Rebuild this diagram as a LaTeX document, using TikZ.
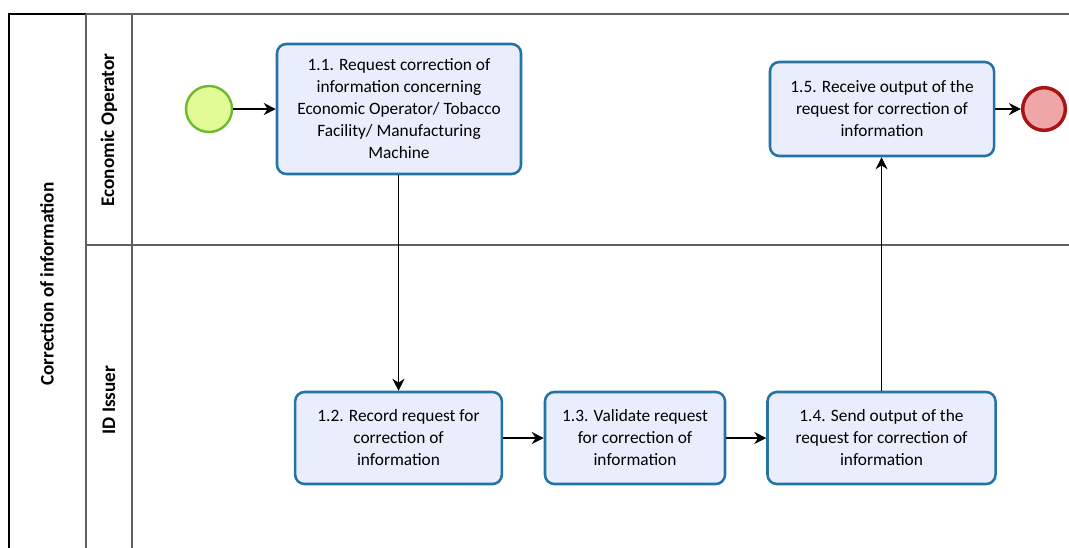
\documentclass[tikz,border=0pt]{standalone}
\usepackage{fontspec}
\setmainfont{Carlito}
\usetikzlibrary{arrows.meta}
\definecolor{taskline}{HTML}{2473A6}
\definecolor{taskfill}{HTML}{EAEEFC}
\definecolor{startline}{HTML}{6CBB2C}
\definecolor{startfill}{HTML}{E3FB96}
\definecolor{endline}{HTML}{A81313}
\definecolor{endfill}{HTML}{EEA6A6}
\definecolor{laneline}{HTML}{606060}
\tikzset{
  task/.style={draw=taskline, fill=taskfill, line width=1.9pt, rounded corners=7pt,
    align=center, inner sep=0pt, font=\fontsize{13}{16.5}\selectfont},
  startev/.style={circle, draw=startline, fill=startfill, line width=1.8pt, minimum size=34.5pt, inner sep=0pt},
  endev/.style={circle, draw=endline, fill=endfill, line width=2.6pt, minimum size=32pt, inner sep=0pt},
  flow/.style={draw=black, line width=0.9pt, -{Stealth[length=9pt,width=9pt]}},
  lanetitle/.style={rotate=90, font=\fontsize{14.4}{16}\selectfont\bfseries},
  lanerule/.style={draw=laneline, line width=0.8pt}
}
\begin{document}
\begin{tikzpicture}[x=0.75pt, y=-0.75pt]
\useasboundingbox (0,0) rectangle (1069,547);
\fill[white] (0,0) rectangle (1069,547);
% pool and lanes
\draw[line width=1pt, black] (9,560) -- (9,14) -- (86,14);
\draw[lanerule] (86,14) -- (1075,14);
\draw[lanerule] (86,14) -- (86,560);
\draw[lanerule] (132,14) -- (132,560);
\draw[lanerule] (86,245) -- (1075,245);
\node[lanetitle] (pooltitle) at (47,284) {Correction of information};
\node[lanetitle] (eotitle) at (109,130) {Economic Operator};
\node[lanetitle] (idtitle) at (109,400) {ID Issuer};
% events
\node[startev] (start) at (209,109) {};
\node[endev] (end) at (1044,109) {};
% tasks
\node[task, minimum width=183pt, minimum height=97.5pt] (t11) at (399,109)
  {1.1. Request correction of\\information concerning\\Economic Operator/ Tobacco\\Facility/ Manufacturing\\Machine};
\node[task, minimum width=168pt, minimum height=70.5pt] (t15) at (882,109)
  {1.5. Receive output of the\\request for correction of\\information};
\node[task, minimum width=155pt, minimum height=69pt] (t12) at (398.5,438)
  {1.2. Record request for\\correction of\\information};
\node[task, minimum width=135pt, minimum height=69pt] (t13) at (635,438)
  {1.3. Validate request\\for correction of\\information};
\node[task, minimum width=171pt, minimum height=69pt] (t14) at (881.5,438)
  {1.4. Send output of the\\request for correction of\\information};
% sequence flows
\draw[flow] (start) -- (t11);
\draw[flow] (t11.south -| t12.north) -- (t12.north);
\draw[flow] (t12) -- (t13);
\draw[flow] (t13) -- (t14);
\draw[flow] (t14.north) -- (t14.north |- t15.south);
\draw[flow] (t15) -- (end);
\end{tikzpicture}
\end{document}
